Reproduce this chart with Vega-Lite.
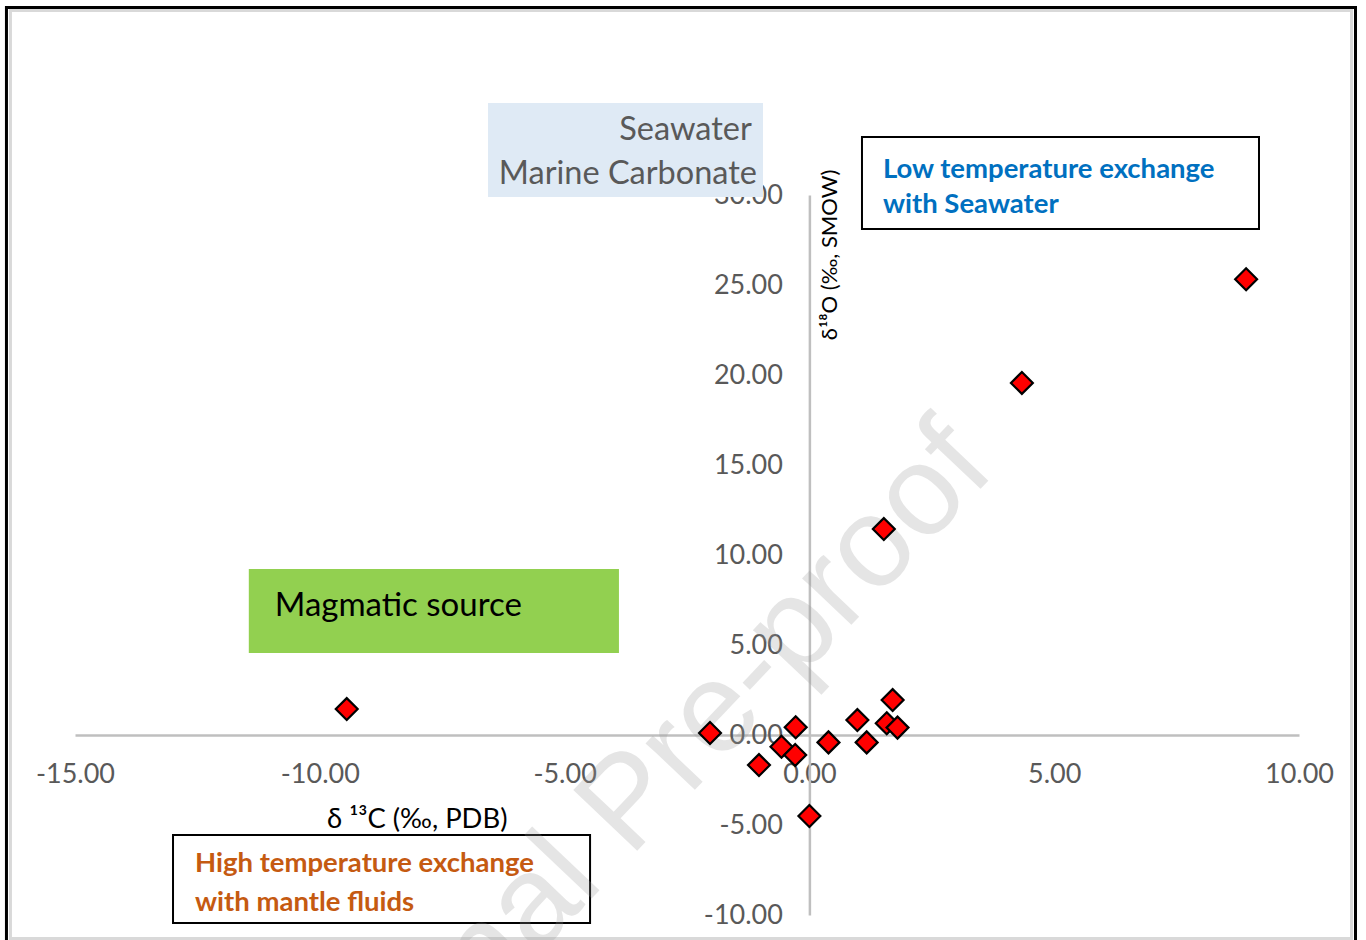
{
  "$schema": "https://vega.github.io/schema/vega-lite/v6.json",
  "width": 1224,
  "height": 720,
  "padding": {"left": 75, "top": 195, "right": 67, "bottom": 25},
  "autosize": {"type": "none"},
  "background": "white",
  "config": {"view": {"stroke": null}},
  "datasets": {
    "frameOuter": [{"x": -16.40, "x2": 11.154, "y": 40.417, "y2": -11.556}],
    "frameInner": [{"x": -16.318, "x2": 11.072, "y": 40.25, "y2": -11.306}],
    "seaBox": [{"x": -6.565, "x2": -0.948, "y": 35.11, "y2": 29.89}],
    "magBox": [{"x": -11.45, "x2": -3.89, "y": 9.22, "y2": 4.56}],
    "lowBox": [{"x": 1.074, "x2": 9.183, "y": 33.22, "y2": 28.11}],
    "highBox": [{"x": -12.998, "x2": -4.48, "y": -5.56, "y2": -10.44}],
    "seaText": [
      {"x": -1.176, "y": 33.61, "label": "Seawater"},
      {"x": -1.07, "y": 31.17, "label": "Marine Carbonate"}
    ],
    "lowText": [
      {"x": 1.501, "y": 31.39, "label": "Low temperature exchange"},
      {"x": 1.501, "y": 29.44, "label": "with Seawater"}
    ],
    "magText": [{"x": -10.92, "y": 7.17, "label": "Magmatic source"}],
    "highText": [
      {"x": -12.55, "y": -7.17, "label": "High temperature exchange"},
      {"x": -12.55, "y": -9.33, "label": "with mantle fluids"}
    ],
    "xTitle": [{"x": -8.01, "y": -4.72, "label": "δ ¹³C (‰, PDB)"}],
    "yTitle": [{"x": 0.42, "y": 26.67, "label": "δ¹⁸O (‰, SMOW)"}],
    "watermark": [{"x": -3.68, "y": -3.82, "label": "Journal Pre-proof"}],
    "points": [
      {"x": -9.45, "y": 1.44},
      {"x": -2.03, "y": 0.11},
      {"x": -1.03, "y": -1.67},
      {"x": -0.57, "y": -0.65},
      {"x": -0.28, "y": 0.43},
      {"x": -0.29, "y": -1.11},
      {"x": 0.0, "y": -4.5},
      {"x": 0.39, "y": -0.41},
      {"x": 0.98, "y": 0.83},
      {"x": 1.17, "y": -0.41},
      {"x": 1.52, "y": 11.44},
      {"x": 1.58, "y": 0.65},
      {"x": 1.70, "y": 1.94},
      {"x": 1.80, "y": 0.41},
      {"x": 4.34, "y": 19.56},
      {"x": 8.92, "y": 25.32}
    ]
  },
  "encoding": {
    "x": {
      "field": "x",
      "type": "quantitative",
      "scale": {"domain": [-15, 10], "nice": false, "zero": false},
      "axis": {
        "title": null,
        "orient": "bottom",
        "offset": -180,
        "values": [-15, -10, -5, 0, 5, 10],
        "labelExpr": "(datum.value < 0 ? '-' : '') + format(abs(datum.value), '.2f')",
        "ticks": false,
        "grid": false,
        "domainColor": "#bfbfbf",
        "domainWidth": 2.5,
        "labelFont": "Lato",
        "labelFontSize": 27,
        "labelColor": "#595959",
        "labelPadding": 26,
        "labelFlush": false,
        "labelOverlap": false,
        "labelBound": false
      }
    },
    "y": {
      "field": "y",
      "type": "quantitative",
      "scale": {"domain": [-10, 30], "nice": false, "zero": false},
      "axis": {
        "title": null,
        "orient": "left",
        "offset": -734.4,
        "values": [-10, -5, 0, 5, 10, 15, 20, 25, 30],
        "labelExpr": "(datum.value < 0 ? '-' : '') + format(abs(datum.value), '.2f')",
        "ticks": false,
        "grid": false,
        "domainColor": "#bfbfbf",
        "domainWidth": 2.5,
        "labelFont": "Lato",
        "labelFontSize": 27,
        "labelColor": "#595959",
        "labelPadding": 27,
        "labelFlush": false,
        "labelOverlap": false,
        "labelBound": false
      }
    }
  },
  "layer": [
    {
      "data": {"name": "frameInner"},
      "mark": {"type": "rect", "filled": false, "stroke": "#d9d9d9", "strokeWidth": 3},
      "encoding": {"x2": {"field": "x2"}, "y2": {"field": "y2"}}
    },
    {
      "data": {"name": "frameOuter"},
      "mark": {"type": "rect", "filled": false, "stroke": "#000000", "strokeWidth": 3},
      "encoding": {"x2": {"field": "x2"}, "y2": {"field": "y2"}}
    },
    {
      "data": {"name": "seaBox"},
      "mark": {"type": "rect", "fill": "#dfeaf5", "stroke": null},
      "encoding": {"x2": {"field": "x2"}, "y2": {"field": "y2"}}
    },
    {
      "data": {"name": "magBox"},
      "mark": {"type": "rect", "fill": "#92d050", "stroke": null},
      "encoding": {"x2": {"field": "x2"}, "y2": {"field": "y2"}}
    },
    {
      "data": {"name": "lowBox"},
      "mark": {"type": "rect", "fill": "#ffffff", "stroke": "#000000", "strokeWidth": 2},
      "encoding": {"x2": {"field": "x2"}, "y2": {"field": "y2"}}
    },
    {
      "data": {"name": "highBox"},
      "mark": {"type": "rect", "fill": "#ffffff", "stroke": "#000000", "strokeWidth": 2},
      "encoding": {"x2": {"field": "x2"}, "y2": {"field": "y2"}}
    },
    {
      "data": {"name": "seaText"},
      "mark": {"type": "text", "align": "right", "baseline": "middle", "font": "Lato", "fontSize": 32.5, "color": "#595959"},
      "encoding": {"text": {"field": "label"}}
    },
    {
      "data": {"name": "lowText"},
      "mark": {"type": "text", "align": "left", "baseline": "middle", "font": "Lato", "fontSize": 27.5, "fontWeight": "bold", "color": "#0070c0"},
      "encoding": {"text": {"field": "label"}}
    },
    {
      "data": {"name": "magText"},
      "mark": {"type": "text", "align": "left", "baseline": "middle", "font": "Lato", "fontSize": 33, "color": "#000000"},
      "encoding": {"text": {"field": "label"}}
    },
    {
      "data": {"name": "highText"},
      "mark": {"type": "text", "align": "left", "baseline": "middle", "font": "Lato", "fontSize": 27.5, "fontWeight": "bold", "color": "#c55a11"},
      "encoding": {"text": {"field": "label"}}
    },
    {
      "data": {"name": "xTitle"},
      "mark": {"type": "text", "align": "center", "baseline": "middle", "font": "Lato", "fontSize": 27.4, "color": "#000000"},
      "encoding": {"text": {"field": "label"}}
    },
    {
      "data": {"name": "yTitle"},
      "mark": {"type": "text", "align": "center", "baseline": "middle", "font": "Lato", "fontSize": 22, "color": "#000000", "angle": 270},
      "encoding": {"text": {"field": "label"}}
    },
    {
      "data": {"name": "watermark"},
      "mark": {"type": "text", "align": "center", "baseline": "middle", "font": "Liberation Sans", "fontSize": 128, "color": "#999999", "opacity": 0.25, "angle": -46.5},
      "encoding": {"text": {"field": "label"}}
    },
    {
      "data": {"name": "points"},
      "mark": {"type": "point", "shape": "diamond", "filled": true, "fill": "#ff0000", "stroke": "#000000", "strokeWidth": 2.2, "size": 480, "opacity": 1},
      "encoding": {}
    }
  ]
}
